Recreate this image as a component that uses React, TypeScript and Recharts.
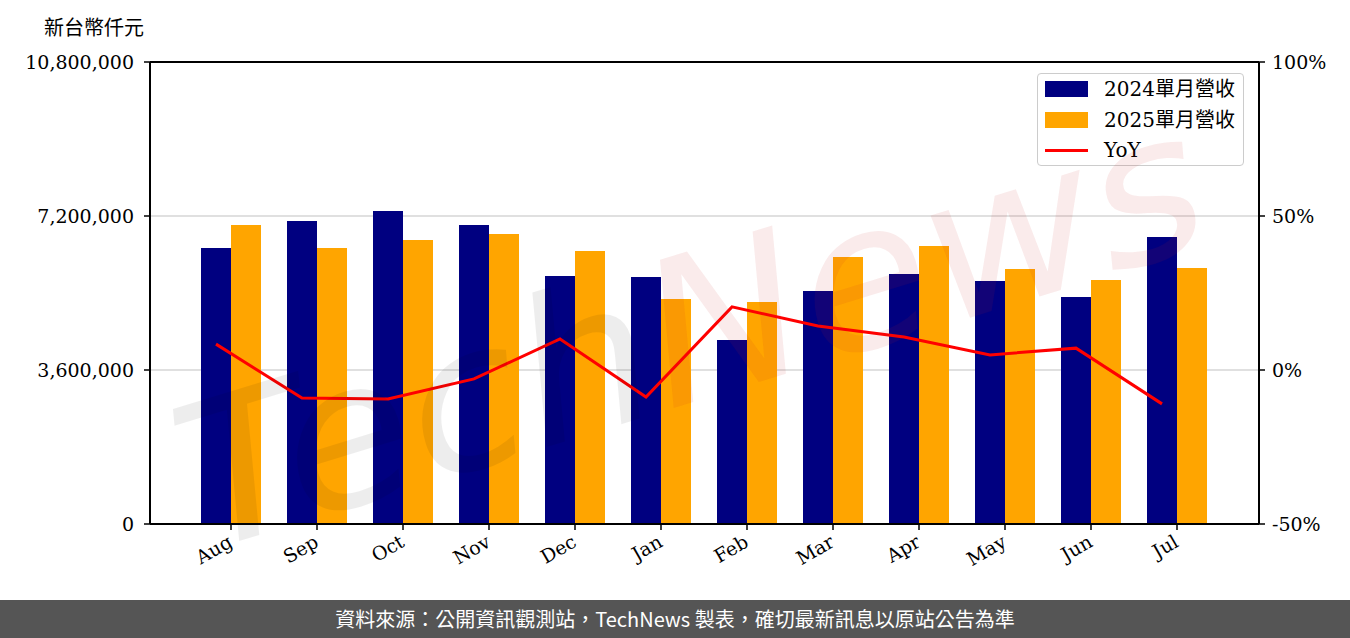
import React from "react"
import { ComposedChart, Bar, Line, XAxis, YAxis, CartesianGrid, Legend, ReferenceLine } from "recharts"

// 單月營收（新台幣仟元）
const months = ["Aug", "Sep", "Oct", "Nov", "Dec", "Jan", "Feb", "Mar", "Apr", "May", "Jun", "Jul"]
const revenue2024 = [6452000, 7083000, 7317000, 6990000, 5797000, 5774000, 4301000, 5447000, 5844000, 5681000, 5306000, 6709000]
const revenue2025 = [6990000, 6452000, 6639000, 6779000, 6382000, 5260000, 5190000, 6242000, 6499000, 5961000, 5704000, 5984000]
const yoyPct = [8.4, -9.1, -9.4, -2.9, 10.1, -8.8, 20.5, 14.3, 10.7, 4.9, 7.1, -11.0]

const leftTicks = [0, 3600000, 7200000, 10800000]
const rightTicks = [-50, 0, 50, 100]

const NAVY = "#000080"
const ORANGE = "#FFA500"
const RED = "#FF0000"
const SERIF = "'DejaVu Serif', 'Noto Sans CJK TC', serif"
const CJK = "'Noto Sans CJK TC', sans-serif"

const data = months.map((m, i) => ({
  month: m,
  y2024: revenue2024[i],
  y2025: revenue2025[i],
  yoy: yoyPct[i],
}))

function LegendBox({ payload }: any) {
  return (
    <div style={{
      width: 207, height: 93, boxSizing: "border-box",
      border: "1px solid #cccccc", borderRadius: 4,
      background: "rgba(255,255,255,0.8)", paddingTop: 0,
    }}>
      {(payload || []).map((item: any) => (
        <div key={item.value} style={{ display: "flex", alignItems: "center", height: 30.5 }}>
          <div style={{ width: 43, marginLeft: 7, display: "flex", alignItems: "center" }}>
            {item.type === "line"
              ? <div style={{ width: 43, height: 3, background: item.color }} />
              : <div style={{ width: 43, height: 16, background: item.color }} />}
          </div>
          <span style={{ marginLeft: 16, fontSize: 20, fontFamily: SERIF, color: "#000", lineHeight: 1 }}>
            {item.value}
          </span>
        </div>
      ))}
    </div>
  )
}

export default function App() {
  const tickStyle = { fontSize: 19, fontFamily: SERIF, fill: "#000" }
  return (
    <div style={{ position: "absolute", left: 0, top: 0, width: 1350, height: 638, background: "#fff", overflow: "hidden" }}>
      <div style={{
        position: "absolute", left: 44, top: 13, fontSize: 20,
        fontFamily: CJK, color: "#000", lineHeight: "28px",
      }}>
        新台幣仟元
      </div>

      <ComposedChart width={1350} height={600} data={data} barGap={0} margin={{ top: 62, right: 0, bottom: 0, left: 0 }}>
        <CartesianGrid yAxisId="left" xAxisId="bar" vertical={false} stroke="#d6d6d6" strokeWidth={1.5} />
        <XAxis
          xAxisId="bar" dataKey="month" height={76}
          padding={{ left: 38, right: 39 }}
          axisLine={{ stroke: "#000", strokeWidth: 2 }}
          tickLine={{ stroke: "#000", strokeWidth: 1.5 }} tickSize={6} tickMargin={4}
          interval={0} angle={-30} textAnchor="end" tick={{ ...tickStyle, dx: -4 }}
        />
        {/* YoY points sit on the 2024 bar centres */}
        <XAxis xAxisId="line" dataKey="month" hide padding={{ left: 23, right: 54 }} />
        <YAxis
          yAxisId="left" width={150} domain={[0, 10800000]} ticks={leftTicks}
          tickFormatter={(v: number) => v.toLocaleString("en-US")}
          axisLine={{ stroke: "#000", strokeWidth: 2 }}
          tickLine={{ stroke: "#000", strokeWidth: 1.5 }} tickSize={6} tickMargin={10}
          tick={tickStyle}
        />
        <YAxis
          yAxisId="right" orientation="right" width={91} domain={[-50, 100]} ticks={rightTicks}
          tickFormatter={(v: number) => `${v}%`}
          axisLine={{ stroke: "#000", strokeWidth: 2 }}
          tickLine={{ stroke: "#000", strokeWidth: 1.5 }} tickSize={6} tickMargin={7}
          tick={tickStyle}
        />
        <ReferenceLine yAxisId="left" xAxisId="bar" y={10800000} stroke="#000" strokeWidth={2} ifOverflow="visible" />
        <Bar xAxisId="bar" yAxisId="left" dataKey="y2024" name="2024單月營收" fill={NAVY} barSize={30} isAnimationActive={false} legendType="rect" />
        <Bar xAxisId="bar" yAxisId="left" dataKey="y2025" name="2025單月營收" fill={ORANGE} barSize={30} isAnimationActive={false} legendType="rect" />
        <Line xAxisId="line" yAxisId="right" dataKey="yoy" name="YoY" stroke={RED} strokeWidth={3} dot={false} activeDot={false} isAnimationActive={false} legendType="line" />
        <Legend
          layout="vertical" align="center" verticalAlign="middle"
          content={(props: any) => <LegendBox payload={props.payload} />}
          wrapperStyle={{ position: "absolute", left: 1037, top: 73, width: 209 }}
        />
      </ComposedChart>

      {/* TechNews watermark */}
      <svg width={1350} height={600} style={{ position: "absolute", left: 0, top: 0, pointerEvents: "none" }}>
        <text
          x={690} y={400} textAnchor="middle" textLength={1060} lengthAdjust="spacingAndGlyphs"
          transform="rotate(-17 690 330)"
          style={{ fontSize: 200, fontFamily: "'DejaVu Sans', sans-serif", fontStyle: "italic" }}
        >
          <tspan fill="#000" fillOpacity={0.07}>Tech</tspan>
          <tspan fill="#c31e1e" fillOpacity={0.09}>News</tspan>
        </text>
      </svg>

      <div style={{
        position: "absolute", left: 0, top: 600, width: 1350, height: 38,
        background: "#555555", color: "#fff", fontFamily: CJK, fontSize: 20,
        textAlign: "center", lineHeight: "38px",
      }}>
        資料來源：公開資訊觀測站，TechNews 製表，確切最新訊息以原站公告為準
      </div>
    </div>
  )
}
